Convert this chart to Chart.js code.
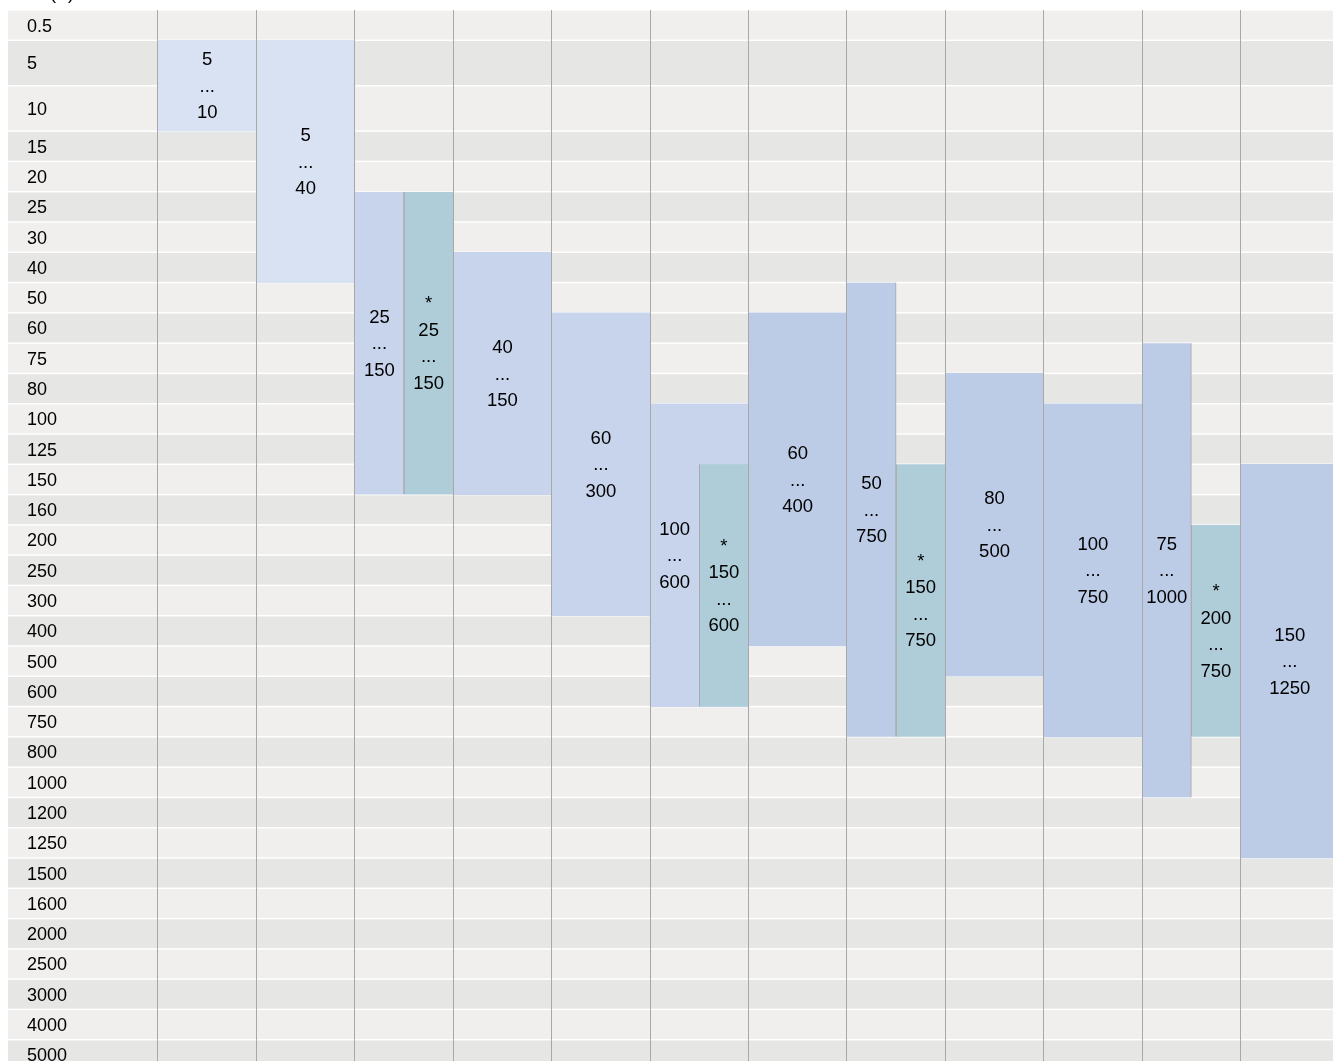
<!DOCTYPE html>
<html><head><meta charset="utf-8">
<script src="https://cdn.jsdelivr.net/npm/chart.js@4"></script>
<style>
html,body{margin:0;padding:0;overflow:hidden;background:#fff;width:1333px;height:1061px}
canvas{display:block}
</style>
</head><body>
<canvas id="c" width="1339" height="1070"></canvas>
<script>
// ---------- data ----------
const rows = ['0.5','5','10','15','20','25','30','40','50','60','75','80','100','125','150','160','200','250','300','400','500','600','750','800','1000','1200','1250','1500','1600','2000','2500','3000','4000','5000'];
const mainMin = ['5','5','25','40','60','100','60','50','80','100','75','150'];
const mainMax = ['10','40','150','150','300','600','400','750','500','750','1000','1250'];
const starMin = [null,null,'25',null,null,'150',null,'150',null,null,'200',null];
const starMax = [null,null,'150',null,null,'600',null,'750',null,null,'750',null];
const axisTitle = 'In (A)';

// ---------- layout / style ----------
const FONT = '"Liberation Sans", Arial, Helvetica, sans-serif';
const tallRows = ['5','10'];
const overlayCols = [5];
const mainColors = ['#d9e2f3','#d9e2f3','#c7d4eb','#c7d4eb','#c7d4eb','#c7d4eb','#bccbe6','#bccbe6','#bccbe6','#bccbe6','#bccbe6','#bccbe6'];
const starColor = '#aecdd9';
const lineGray = '#a8a8a8';
const stripeA = '#f0efed', stripeB = '#e6e6e4';
const textColor = '#000';

const rowH = rows.map(r => tallRows.includes(r) ? 1.5 : 1);
const rowStart = []; let acc = 0;
rowH.forEach(h => { rowStart.push(acc); acc += h; });
const total = acc;
const ri = r => rows.indexOf(r);
const span = (a, b) => [rowStart[ri(a)], rowStart[ri(b)] + rowH[ri(b)]];
const nCol = mainMin.length;
const isHalf = i => starMin[i] != null && !overlayCols.includes(i);

const colLabels = mainMin.map((_, i) => 'c' + (i + 1));
const halfLabels = [];
colLabels.forEach(c => { halfLabels.push(c + 'a', c + 'b'); });

const fullData = [], fullText = [], fullColors = [];
const halfData = [], halfText = [], halfColors = [];
const starData = [], starText = [];
for (let i = 0; i < nCol; i++) {
  const m = [mainMin[i], '...', mainMax[i]];
  fullData.push(isHalf(i) ? null : span(mainMin[i], mainMax[i]));
  fullText.push(isHalf(i) ? null : m);
  fullColors.push(mainColors[i]);
  halfData.push(isHalf(i) ? span(mainMin[i], mainMax[i]) : null, null);
  halfText.push(isHalf(i) ? m : null, null);
  halfColors.push(mainColors[i], mainColors[i]);
  const hasStar = starMin[i] != null;
  starData.push(null, hasStar ? span(starMin[i], starMax[i]) : null);
  starText.push(null, hasStar ? ['*', starMin[i], '...', starMax[i]] : null);
}

const stripes = {
  id: 'stripes',
  beforeDraw(chart) {
    const {ctx, chartArea} = chart; const y = chart.scales.y;
    ctx.save();
    ctx.fillStyle = '#fff'; ctx.fillRect(0, 0, chart.width, chart.height);
    rows.forEach((r, i) => {
      const y0 = y.getPixelForValue(rowStart[i]);
      const y1 = y.getPixelForValue(rowStart[i] + rowH[i]);
      ctx.fillStyle = i % 2 ? stripeB : stripeA;
      ctx.fillRect(8, y0 + 0.75, chartArea.right - 8, y1 - y0 - 1.5);
    });
    ctx.restore();
  }
};

const barText = {
  id: 'barText',
  afterDatasetsDraw(chart) {
    const ctx = chart.ctx;
    ctx.save();
    ctx.font = '18.5px ' + FONT; ctx.fillStyle = textColor;
    ctx.textAlign = 'center'; ctx.textBaseline = 'middle';
    chart.data.datasets.forEach((ds, di) => {
      const meta = chart.getDatasetMeta(di);
      meta.data.forEach((el, j) => {
        const lines = ds.texts[j];
        if (!lines) return;
        let x = el.x;
        if (ds.isFull && starMin[j] != null) x = chart.scales.x2.getPixelForValue(2 * j);
        const cy = (el.y + el.base) / 2 + 1;
        lines.forEach((t, k) => ctx.fillText(t, x, cy + (k - (lines.length - 1) / 2) * 26.5));
      });
    });
    ctx.restore();
  },
  afterDraw(chart) {
    const ctx = chart.ctx;
    ctx.save();
    ctx.font = '18px ' + FONT; ctx.fillStyle = textColor;
    ctx.textAlign = 'left'; ctx.textBaseline = 'alphabetic';
    ctx.fillText(axisTitle, 30, -1);
    ctx.restore();
  }
};

new Chart(document.getElementById('c'), {
  type: 'bar',
  data: {
    labels: colLabels,
    datasets: [
      { label: 'star', data: starData, texts: starText, xAxisID: 'x2', yAxisID: 'y',
        backgroundColor: starColor, borderColor: lineGray,
        borderWidth: {left: 1, right: 0, top: 0, bottom: 0}, borderSkipped: false,
        grouped: false, categoryPercentage: 1, barPercentage: 1 },
      { label: 'half', data: halfData, texts: halfText, xAxisID: 'x2', yAxisID: 'y',
        backgroundColor: halfColors, borderColor: lineGray,
        borderWidth: {left: 0, right: 1, top: 0, bottom: 0}, borderSkipped: false,
        grouped: false, categoryPercentage: 1, barPercentage: 1 },
      { label: 'full', data: fullData, texts: fullText, isFull: true, xAxisID: 'x', yAxisID: 'y',
        backgroundColor: fullColors, borderWidth: 0,
        grouped: false, categoryPercentage: 1, barPercentage: 1 }
    ]
  },
  options: {
    responsive: false, animation: false, devicePixelRatio: 1,
    layout: { padding: { top: 10, left: 27, right: 0, bottom: 0 } },
    plugins: { legend: { display: false }, tooltip: { enabled: false }, title: { display: false } },
    scales: {
      x: {
        type: 'category', position: 'bottom', offset: true,
        ticks: { display: false },
        grid: { display: true, offset: true, drawTicks: false, color: lineGray, lineWidth: 1, z: 1 },
        border: { display: false },
        afterFit: s => { s.height = 0; s.paddingLeft = 0; s.paddingRight = 0; }
      },
      x2: {
        type: 'category', labels: halfLabels, display: false, offset: true
      },
      y: {
        type: 'linear', reverse: true, min: 0, max: total, position: 'left',
        afterBuildTicks: s => { s.ticks = rows.map((r, i) => ({ value: rowStart[i] + rowH[i] / 2 })); },
        afterFit: s => { s.width = 131; s.paddingTop = 0; s.paddingBottom = 0; },
        ticks: { autoSkip: false, crossAlign: 'far', labelOffset: 1.5, color: textColor, font: { family: FONT, size: 18 },
          callback: (v, i) => rows[i] },
        grid: { display: false },
        border: { display: false }
      }
    }
  },
  plugins: [stripes, barText]
});
</script>
</body></html>
